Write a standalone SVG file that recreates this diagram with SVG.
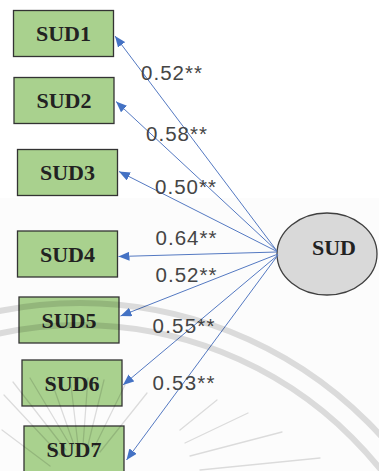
<svg xmlns="http://www.w3.org/2000/svg" width="379" height="471" viewBox="0 0 379 471">
  <style>
    .box { fill: #a9d18e; stroke: #333333; stroke-width: 1.3; }
    .lat { fill: #d9d9d9; stroke: #404040; stroke-width: 1.3; }
    .name { font-family: "Liberation Serif", "Times New Roman", serif; font-weight: bold; font-size: 22px; fill: #222222; text-anchor: middle; }
    .load { font-family: "Liberation Sans", Arial, sans-serif; font-size: 20.5px; fill: #454545; }
    .path { stroke: #5479c2; stroke-width: 1; fill: none; marker-end: url(#head); }
    .mark { stroke: #000000; stroke-opacity: 0.13; fill: none; }
  </style>
  <defs>
    <marker id="head" viewBox="0 0 11 9" refX="11" refY="4.5" markerWidth="11" markerHeight="9" markerUnits="userSpaceOnUse" orient="auto">
      <path d="M0,0 L11,4.5 L0,9 Z" fill="#4472c4"/>
    </marker>
  </defs>

  <!-- page background -->
  <rect x="0" y="0" width="379" height="471" fill="#ffffff"/>
  <rect x="0" y="198" width="379" height="273" fill="#000000" fill-opacity="0.012"/>

  <!-- observed indicators -->
  <g id="SUD1"><rect class="box" x="13.5" y="10.5" width="100" height="46"/><text class="name" x="63.5" y="41">SUD1</text></g>
  <g id="SUD2"><rect class="box" x="14" y="77.5" width="100" height="46"/><text class="name" x="64" y="108">SUD2</text></g>
  <g id="SUD3"><rect class="box" x="17.5" y="149.5" width="100" height="46"/><text class="name" x="67.5" y="180">SUD3</text></g>
  <g id="SUD4"><rect class="box" x="17.5" y="231" width="100" height="46"/><text class="name" x="67.5" y="261.5">SUD4</text></g>
  <g id="SUD5"><rect class="box" x="19" y="297" width="100" height="46"/><text class="name" x="69" y="327.5">SUD5</text></g>
  <g id="SUD6"><rect class="box" x="22" y="360" width="100" height="46"/><text class="name" x="72" y="390.5">SUD6</text></g>
  <g id="SUD7"><rect class="box" x="24" y="426" width="100" height="46"/><text class="name" x="74" y="456.5">SUD7</text></g>

  <!-- latent factor -->
  <g id="SUD">
    <ellipse class="lat" cx="327" cy="254" rx="50" ry="41"/>
    <text class="name" x="334" y="254.5">SUD</text>
  </g>

  <!-- loadings -->
  <g id="connectors">
    <line class="path" x1="277" y1="251" x2="115" y2="36"/>
    <line class="path" x1="277" y1="251" x2="116" y2="101.5"/>
    <line class="path" x1="277" y1="251.5" x2="119" y2="171.5"/>
    <line class="path" x1="277" y1="252" x2="118.5" y2="256.5"/>
    <line class="path" x1="278" y1="254" x2="120.5" y2="316"/>
    <line class="path" x1="278" y1="255" x2="123" y2="385"/>
    <line class="path" x1="278" y1="255" x2="126.5" y2="460"/>
    <text class="load" x="141" y="80" textLength="61" lengthAdjust="spacing">0.52**</text>
    <text class="load" x="146" y="141" textLength="61" lengthAdjust="spacing">0.58**</text>
    <text class="load" x="155" y="194" textLength="61" lengthAdjust="spacing">0.50**</text>
    <text class="load" x="155.5" y="245" textLength="61" lengthAdjust="spacing">0.64**</text>
    <text class="load" x="155.5" y="282" textLength="61" lengthAdjust="spacing">0.52**</text>
    <text class="load" x="152.5" y="333" textLength="62" lengthAdjust="spacing">0.55**</text>
    <text class="load" x="152.5" y="390" textLength="62" lengthAdjust="spacing">0.53**</text>
  </g>

  <!-- faint emblem printed over the page -->
  <g id="emblem">
    <circle class="mark" cx="80" cy="710" r="407" stroke-width="6"/>
    <circle class="mark" cx="80" cy="710" r="385" stroke-width="6"/>
    <g stroke-width="1.3" stroke-linecap="round" stroke-opacity="0.8">
      <line class="mark" x1="4" y1="395" x2="60" y2="455"/>
      <line class="mark" x1="13" y1="382" x2="66" y2="450"/>
      <line class="mark" x1="30" y1="378" x2="70" y2="445"/>
      <line class="mark" x1="50" y1="377" x2="74" y2="445"/>
      <line class="mark" x1="70" y1="377" x2="78" y2="445"/>
      <line class="mark" x1="88" y1="378" x2="83" y2="445"/>
      <line class="mark" x1="104" y1="380" x2="88" y2="445"/>
      <line class="mark" x1="125" y1="385" x2="94" y2="448"/>
      <line class="mark" x1="147" y1="393" x2="100" y2="452"/>
      <line class="mark" x1="2" y1="430" x2="50" y2="466"/>
      <line class="mark" x1="217" y1="400" x2="180" y2="430"/>
      <line class="mark" x1="248" y1="413" x2="185" y2="443"/>
      <line class="mark" x1="282" y1="432" x2="190" y2="456"/>
      <line class="mark" x1="320" y1="458" x2="200" y2="470"/>
    </g>
  </g>
</svg>
